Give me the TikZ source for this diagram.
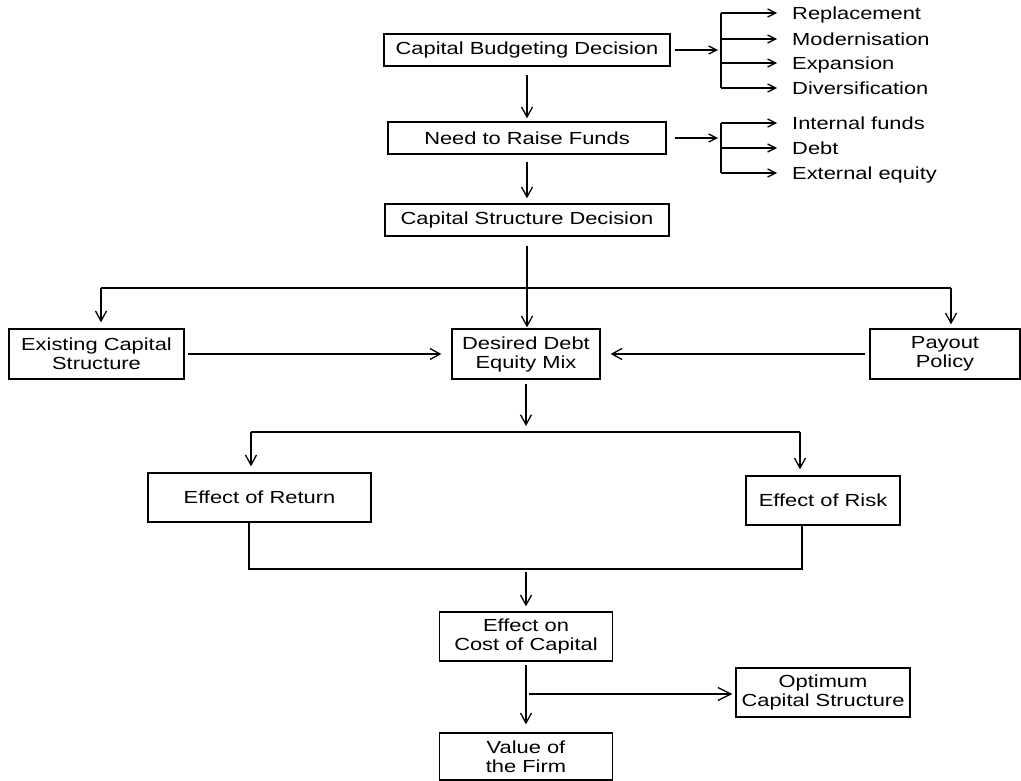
\documentclass[tikz,border=0pt]{standalone}
\usepackage{fontspec}
\setmainfont{Liberation Sans}[FakeStretch=1.25]
\usetikzlibrary{arrows.meta,calc}
\begin{document}
\begin{tikzpicture}[x=1pt,y=-1pt]
\tikzset{
 box/.style={draw, line width=1.3pt, inner sep=0pt, align=center, font=\fontsize{17.5}{19}\selectfont},
 lbl/.style={inner sep=0pt, anchor=base west, font=\fontsize{17.5}{19}\selectfont},
 ln/.style={line width=1.3pt},
 arr/.style={ln, -{Straight Barb[length=10pt,width=11pt]}},
 sarr/.style={ln, -{Straight Barb[length=8pt,width=8pt]}},
}
\useasboundingbox (0,0) rectangle (1021,781);

% boxes
\node[box, minimum width=286pt, minimum height=32pt] (b1) at (527,50) {Capital Budgeting Decision};
\node[box, minimum width=278pt, minimum height=32pt] (b2) at (527,138) {Need to Raise Funds};
\node[box, minimum width=284pt, minimum height=32pt] (b3) at (527,220) {Capital Structure Decision};
\node[box, minimum width=175pt, minimum height=50pt] (ecs) at (96.5,354) {Existing Capital\\Structure};
\node[box, minimum width=148pt, minimum height=50pt] (ddm) at (526,354) {Desired Debt\\Equity Mix};
\node[box, minimum width=150pt, minimum height=50pt] (pp) at (945,354) {Payout\\Policy};
\node[box, minimum width=223pt, minimum height=49pt] (er) at (259.5,497.5) {Effect of Return};
\node[box, minimum width=154pt, minimum height=49pt] (erk) at (823,500.5) {Effect of Risk};
\node[box, minimum width=173pt, minimum height=49pt] (ecc) at (526,636.5) {Effect on\\Cost of Capital};
\node[box, minimum width=174pt, minimum height=49pt] (ocs) at (823,692.5) {Optimum\\Capital Structure};
\node[box, minimum width=173pt, minimum height=47pt] (vf) at (526,756.5) {Value of\\the Firm};

% labels
\node[lbl] (r1) at (792,19.3) {Replacement};
\node[lbl] (r2) at (792,45.3) {Modernisation};
\node[lbl] (r3) at (792,69.3) {Expansion};
\node[lbl] (r4) at (792,94.3) {Diversification};
\node[lbl] (f1) at (792,129.3) {Internal funds};
\node[lbl] (f2) at (792,154.3) {Debt};
\node[lbl] (f3) at (792,179.3) {External equity};

% top-right brackets
\coordinate (k1) at (721,50);
\coordinate (q1) at (721,13);
\coordinate (q2) at (721,39);
\coordinate (q3) at (721,63);
\coordinate (q4) at (721,88);
\draw[sarr, shorten <=4pt, shorten >=3pt] (b1.east) -- (k1);
\draw[ln] (q1) -- (q4);
\draw[sarr, shorten >=15pt] (q1) -- (q1 -| r1.west);
\draw[sarr, shorten >=15pt] (q2) -- (q2 -| r2.west);
\draw[sarr, shorten >=15pt] (q3) -- (q3 -| r3.west);
\draw[sarr, shorten >=15pt] (q4) -- (q4 -| r4.west);

\coordinate (k2) at (721,138);
\coordinate (p1) at (721,123);
\coordinate (p2) at (721,148);
\coordinate (p3) at (721,173);
\draw[sarr, shorten <=8pt, shorten >=3pt] (b2.east) -- (k2);
\draw[ln] (p1) -- (p3);
\draw[sarr, shorten >=15pt] (p1) -- (p1 -| f1.west);
\draw[sarr, shorten >=15pt] (p2) -- (p2 -| f2.west);
\draw[sarr, shorten >=15pt] (p3) -- (p3 -| f3.west);

% main vertical flow
\draw[arr, shorten <=8pt, shorten >=3pt] (b1.south) -- (b2.north);
\draw[arr, shorten <=7pt, shorten >=5pt] (b2.south) -- (b3.north);
\draw[arr, shorten <=9pt, shorten >=1pt] (b3.south) -- (b3.south |- ddm.north);

\coordinate (hL) at (101,288);
\coordinate (hR) at (951,288);
\draw[ln] (hL) -- (hR);
\draw[arr, shorten >=6pt] (hL) -- (hL |- ecs.north);
\draw[arr, shorten >=4pt] (hR) -- (hR |- pp.north);
\draw[arr, shorten <=3pt, shorten >=10pt] (ecs.east) -- (ddm.west);
\draw[arr, shorten <=4pt, shorten >=10pt] (pp.west) -- (ddm.east);

\coordinate (m1) at (526,426);
\draw[arr, shorten <=4pt] (ddm.south) -- (m1);
\coordinate (gL) at (251,432);
\coordinate (gR) at (800,432);
\draw[ln] (gL) -- (gR);
\draw[arr, shorten >=6pt] (gL) -- (gL |- er.north);
\draw[arr, shorten >=6pt] (gR) -- (gR |- erk.north);

\coordinate (cL) at (249,569);
\coordinate (cR) at (802,569);
\coordinate (cM) at (526,569);
\draw[ln] (cL |- er.south) -- (cL) -- (cR) -- (cR |- erk.south);
\draw[arr, shorten <=3pt, shorten >=5pt] (cM) -- (cM |- ecc.north);
\draw[arr, shorten <=3pt, shorten >=8pt] (ecc.south) -- (vf.north);
\coordinate (s1) at (529,694);
\draw[arr, -{Straight Barb[length=13pt,width=13pt]}, shorten >=3pt] (s1) -- (s1 -| ocs.west);
\end{tikzpicture}
\end{document}
